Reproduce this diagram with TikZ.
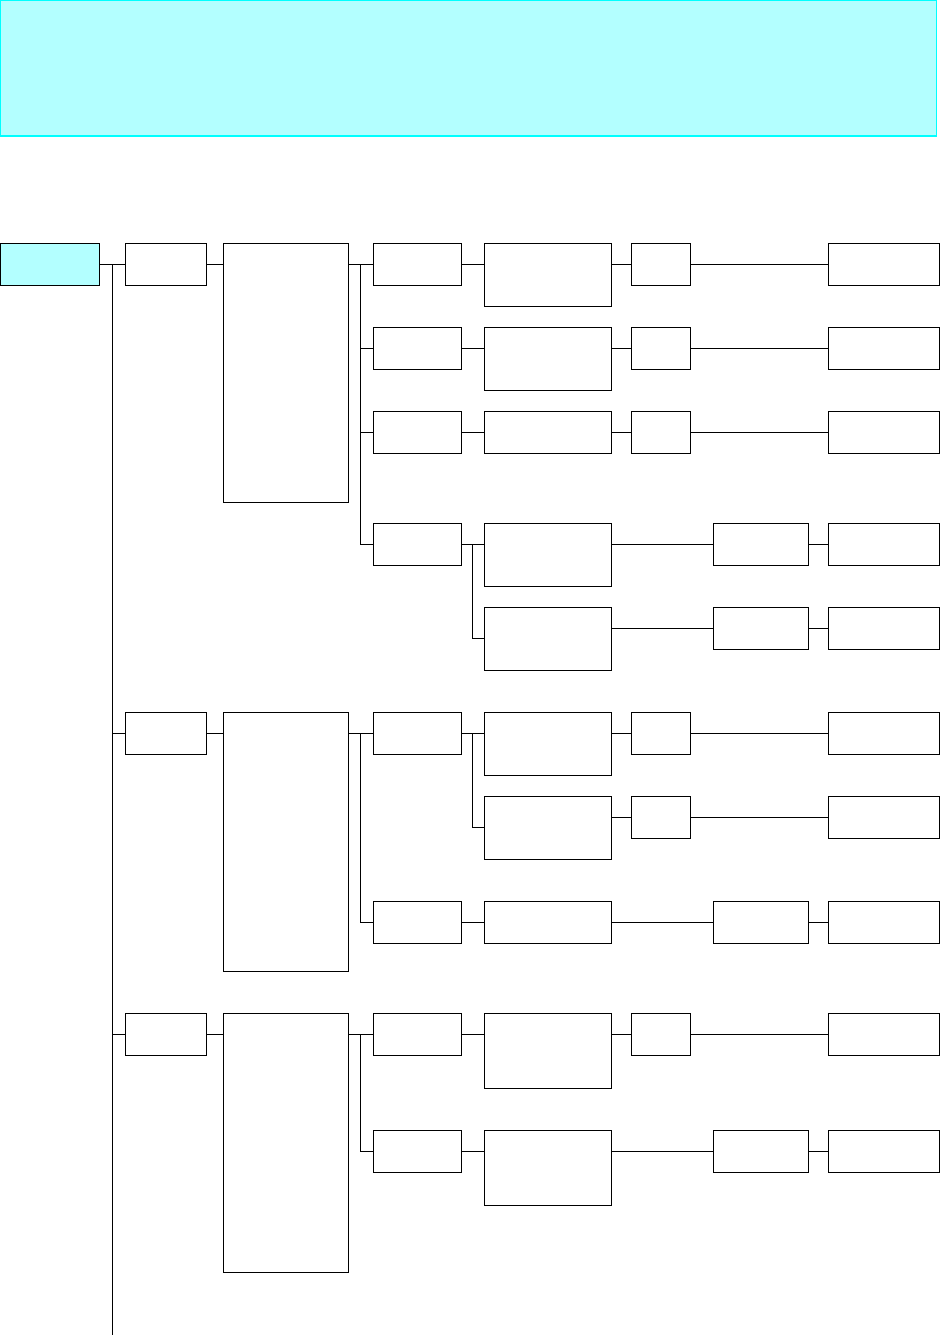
\documentclass[tikz,border=0pt]{standalone}
\usetikzlibrary{calc}
\definecolor{lightcyan}{HTML}{B3FFFF}
\definecolor{bandline}{HTML}{00FFFF}
\tikzset{
  box/.style={draw=black, line width=0.9pt, inner sep=0pt, outer sep=0pt, fill=white},
  rootbox/.style={box, fill=lightcyan},
  conn/.style={draw=black, line width=0.9pt},
}
\newcommand\boxat[6][]{\node[box,#1,minimum width={(#5-#3)*1pt},minimum height={(#6-#4)*1pt}] (#2) at ({(#3+#5)/2},{(#4+#6)/2}) {};}
\begin{document}
\begin{tikzpicture}[x=1pt,y=-1pt]
\useasboundingbox (0,0) rectangle (940,1335);
% top band
\node[draw=bandline, fill=lightcyan, line width=1pt, inner sep=0pt, outer sep=0pt,
      minimum width=935.5pt, minimum height=135.5pt] (band) at (468.25,68.25) {};
% root
\boxat[rootbox]{root}{0.5}{243.3}{99.7}{285.3}
% group 1
\boxat{A1}{125.3}{243.3}{206.7}{285.3}
\boxat{B1}{223.3}{243.3}{348.3}{502.3}
\boxat{C1}{373.3}{243.3}{461.7}{285.3}
\boxat{D1}{484}{243.3}{611.7}{306.3}
\boxat{E1}{631.3}{243.3}{690.3}{285.3}
\boxat{F1}{828.3}{243.3}{939}{285.3}
\boxat{C2}{373.3}{327.3}{461.7}{369.3}
\boxat{D2}{484}{327.3}{611.7}{390.3}
\boxat{E2}{631.3}{327.3}{690.3}{369.3}
\boxat{F2}{828.3}{327.3}{939}{369.3}
\boxat{C3}{373.3}{411.3}{461.7}{453.3}
\boxat{D3}{484}{411.3}{611.7}{453.3}
\boxat{E3}{631.3}{411.3}{690.3}{453.3}
\boxat{F3}{828.3}{411.3}{939}{453.3}
\boxat{C4}{373.3}{523.3}{461.7}{565.3}
\boxat{D4a}{484}{523.3}{611.7}{586.3}
\boxat{G4a}{713.3}{523.3}{808.3}{565.3}
\boxat{F4a}{828.3}{523.3}{939}{565.3}
\boxat{D4b}{484}{607.3}{611.7}{670.3}
\boxat{G4b}{713.3}{607.3}{808.3}{649.3}
\boxat{F4b}{828.3}{607.3}{939}{649.3}
% group 2
\boxat{A2}{125.3}{712.3}{206.7}{754.3}
\boxat{B2}{223.3}{712.3}{348.3}{971.3}
\boxat{C5}{373.3}{712.3}{461.7}{754.3}
\boxat{D5a}{484}{712.3}{611.7}{775.3}
\boxat{E5a}{631.3}{712.3}{690.3}{754.3}
\boxat{F5a}{828.3}{712.3}{939}{754.3}
\boxat{D5b}{484}{796.3}{611.7}{859.3}
\boxat{E5b}{631.3}{796.3}{690.3}{838.3}
\boxat{F5b}{828.3}{796.3}{939}{838.3}
\boxat{C6}{373.3}{901.3}{461.7}{943.3}
\boxat{D6}{484}{901.3}{611.7}{943.3}
\boxat{G6}{713.3}{901.3}{808.3}{943.3}
\boxat{F6}{828.3}{901.3}{939}{943.3}
% group 3
\boxat{A3}{125.3}{1013.3}{206.7}{1055.3}
\boxat{B3}{223.3}{1013.3}{348.3}{1272.3}
\boxat{C7}{373.3}{1013.3}{461.7}{1055.3}
\boxat{D7}{484}{1013.3}{611.7}{1088.3}
\boxat{E7}{631.3}{1013.3}{690.3}{1055.3}
\boxat{F7}{828.3}{1013.3}{939}{1055.3}
\boxat{C8}{373.3}{1130.3}{461.7}{1172.3}
\boxat{D8}{484}{1130.3}{611.7}{1205.3}
\boxat{G8}{713.3}{1130.3}{808.3}{1172.3}
\boxat{F8}{828.3}{1130.3}{939}{1172.3}

% trunk
\coordinate (tt) at ($(root.east)!0.5!(A1.west)$);
\coordinate (tb) at (tt |- 0,1335);
\draw[conn] (root.east) -- (A1.west);
\draw[conn] (tt) -- (tb);
\draw[conn] (A2.west -| tt) -- (A2.west);
\draw[conn] (A3.west -| tt) -- (A3.west);
% A -> B
\foreach \i in {1,2,3} {\draw[conn] (A\i.east) -- (A\i.east -| B\i.west);}
% B -> C spines
\coordinate (s1) at ($(B1.east |- C1.west)!0.5!(C1.west)$);
\draw[conn] (B1.east |- C1.west) -- (C1.west);
\draw[conn] (s1) |- (C4.west);
\draw[conn] (s1 |- C2.west) -- (C2.west);
\draw[conn] (s1 |- C3.west) -- (C3.west);
\coordinate (s2) at ($(B2.east |- C5.west)!0.5!(C5.west)$);
\draw[conn] (B2.east |- C5.west) -- (C5.west);
\draw[conn] (s2) |- (C6.west);
\coordinate (s3) at ($(B3.east |- C7.west)!0.5!(C7.west)$);
\draw[conn] (B3.east |- C7.west) -- (C7.west);
\draw[conn] (s3) |- (C8.west);
% C -> D
\foreach \c/\d in {C1/D1,C2/D2,C3/D3,C4/D4a,C5/D5a,C6/D6,C7/D7,C8/D8}
  {\draw[conn] (\c.east) -- (\c.east -| \d.west);}
\coordinate (k4) at ($(C4.east)!0.5!(C4.east -| D4a.west)$);
\draw[conn] (k4) |- (D4b.west);
\coordinate (k5) at ($(C5.east)!0.5!(C5.east -| D5a.west)$);
\draw[conn] (k5) |- (D5b.west);
% D -> E -> F
\foreach \d/\e/\f in {D1/E1/F1,D2/E2/F2,D3/E3/F3,D5a/E5a/F5a,D5b/E5b/F5b,D7/E7/F7}
  {\draw[conn] (\e.west -| \d.east) -- (\e.west);
   \draw[conn] (\e.east) -- (\f.west);}
% D -> G -> F
\foreach \d/\g/\f in {D4a/G4a/F4a,D4b/G4b/F4b,D6/G6/F6,D8/G8/F8}
  {\draw[conn] (\g.west -| \d.east) -- (\g.west);
   \draw[conn] (\g.east) -- (\f.west);}
\end{tikzpicture}
\end{document}
